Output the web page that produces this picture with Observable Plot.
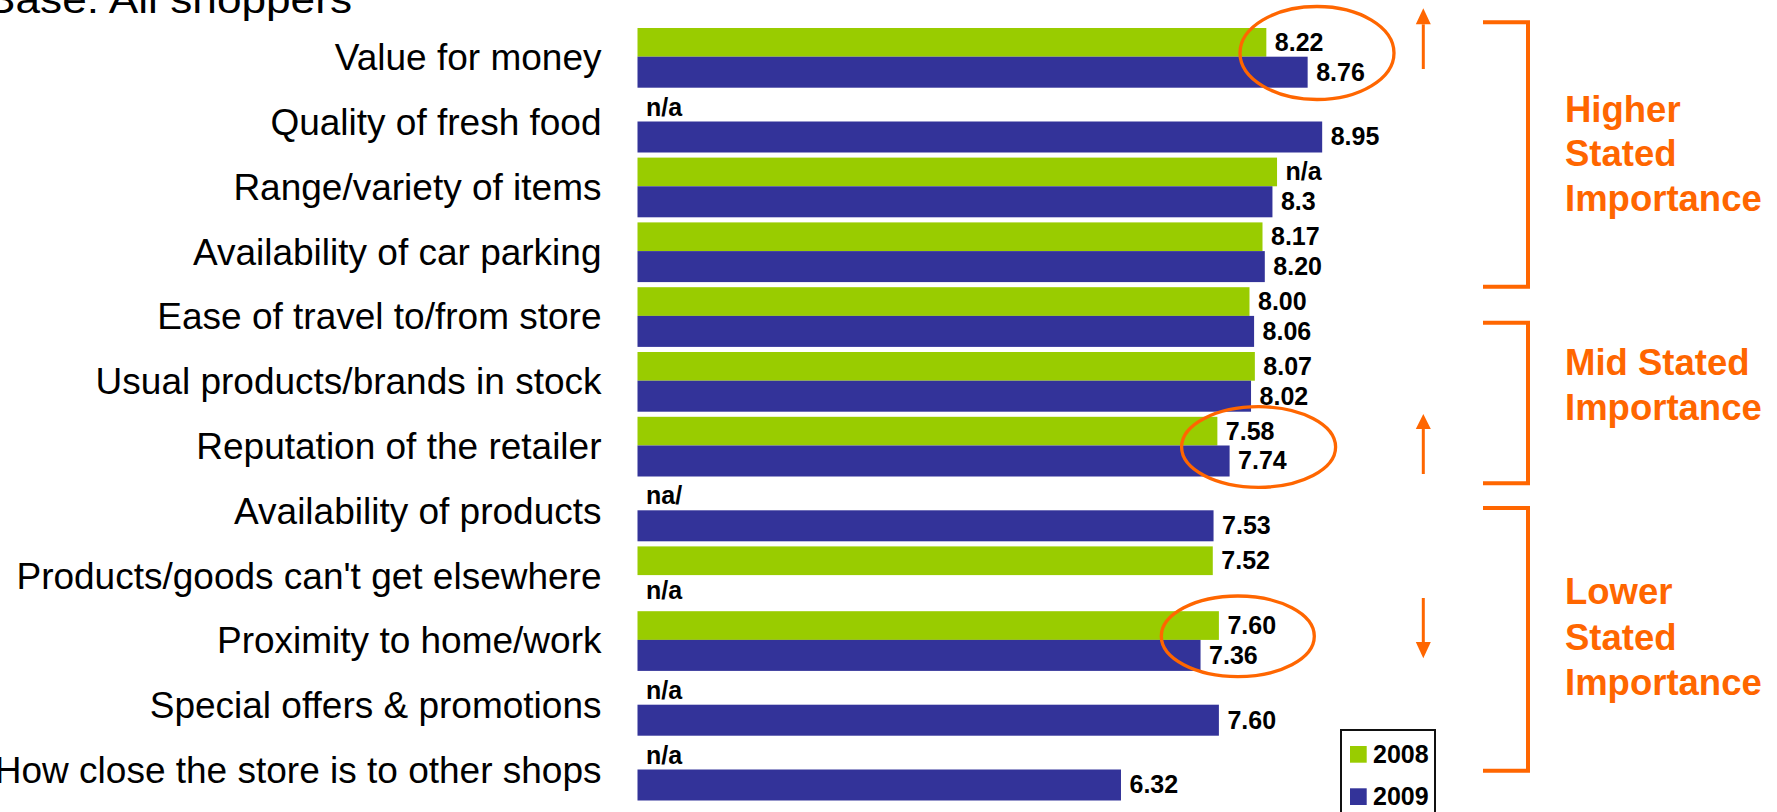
<!DOCTYPE html>
<html>
<head>
<meta charset="utf-8">
<script src="https://cdn.jsdelivr.net/npm/d3@7"></script>
<script src="https://cdn.jsdelivr.net/npm/@observablehq/plot@0.6"></script>
<style>
  html, body { margin: 0; padding: 0; background: #fff; overflow: hidden; }
  #chart svg { display: block; }
</style>
</head>
<body>
<div id="chart"></div>
<script>
// ---- Data ----
const categories = [
  "Value for money",
  "Quality of fresh food",
  "Range/variety of items",
  "Availability of car parking",
  "Ease of travel to/from store",
  "Usual products/brands in stock",
  "Reputation of the retailer",
  "Availability of products",
  "Products/goods can't get elsewhere",
  "Proximity to home/work",
  "Special offers & promotions",
  "How close the store is to other shops"
];
const years = ["2008", "2009"];
const values2008 = [8.22, null, 8.36, 8.17, 8.00, 8.07, 7.58, null, 7.52, 7.60, null, null];
const values2009 = [8.76, 8.95, 8.30, 8.20, 8.06, 8.02, 7.74, 7.53, null, 7.36, 7.60, 6.32];
const labels2008 = ["8.22", "n/a", "n/a", "8.17", "8.00", "8.07", "7.58", "na/", "7.52", "7.60", "n/a", "n/a"];
const labels2009 = ["8.76", "8.95", "8.3", "8.20", "8.06", "8.02", "7.74", "7.53", "n/a", "7.36", "7.60", "6.32"];
const seriesColors = ["#99CC00", "#333399"];
const title = "Base: All shoppers";
const groupLabels = [
  ["Higher", "Stated", "Importance"],
  ["Mid Stated", "Importance"],
  ["Lower", "Stated", "Importance"]
];

// ---- Build rows ----
const rows2008 = categories.map((c, i) => ({category: c, year: years[0], value: values2008[i], label: labels2008[i]}));
const rows2009 = categories.map((c, i) => ({category: c, year: years[1], value: values2009[i], label: labels2009[i]}));

const font = "'Liberation Sans', Arial, Helvetica, sans-serif";

const plot = Plot.plot({
  width: 1777,
  height: 812,
  marginLeft: 637.5,
  marginRight: 374.5,
  marginTop: 0,
  marginBottom: 0,
  style: {fontFamily: font, fontSize: "37px", background: "white", overflow: "visible"},
  x: {domain: [0, 10], axis: null},
  y: {domain: categories, range: [28, 800.5], paddingInner: 0.0787, paddingOuter: 0, align: 0, round: false, label: null},
  marks: [
    Plot.barX(rows2008.filter(d => d.value != null), {x: "value", y: "category", fill: seriesColors[0], insetBottom: 31}),
    Plot.barX(rows2009.filter(d => d.value != null), {x: "value", y: "category", fill: seriesColors[1], insetTop: 28.7}),
    Plot.text(rows2008, {x: d => d.value ?? 0, y: "category", text: "label", dy: -15.5, dx: 8, textAnchor: "start", fontWeight: "bold", fontSize: 25, fill: "black"}),
    Plot.text(rows2009, {x: d => d.value ?? 0, y: "category", text: "label", dy: 14.3, dx: 8, textAnchor: "start", fontWeight: "bold", fontSize: 25, fill: "black"}),
    Plot.axisY({tickSize: 0, tickPadding: 36.5, fontSize: 37, label: null})
  ]
});

document.getElementById("chart").appendChild(plot);

// ---- Annotations (decoration) ----
const svg = d3.select(plot);
const orange = "#FF6600";
const ann = svg.append("g").attr("text-anchor", "start");

// title, cut at the top of the picture
ann.append("text")
  .attr("x", -14).attr("y", 13.3)
  .attr("font-family", font).attr("font-size", 38)
  .attr("textLength", 366).attr("lengthAdjust", "spacingAndGlyphs")
  .attr("fill", "black")
  .text(title);

// ellipses around the changed values
const ellipses = [
  {cx: 1317, cy: 53, rx: 77, ry: 46.5},
  {cx: 1258.6, cy: 447, rx: 77, ry: 40.3},
  {cx: 1237.8, cy: 636.3, rx: 76.5, ry: 40.3}
];
ann.append("g").selectAll("ellipse").data(ellipses).join("ellipse")
  .attr("cx", d => d.cx).attr("cy", d => d.cy).attr("rx", d => d.rx).attr("ry", d => d.ry)
  .attr("fill", "none").attr("stroke", orange).attr("stroke-width", 3.3);

// arrows
const arrows = [
  {x: 1423.3, tail: 69, base: 24.3, tip: 8.3},
  {x: 1423.3, tail: 474, base: 429, tip: 414},
  {x: 1423.3, tail: 598, base: 642, tip: 658.3}
];
const ag = ann.append("g");
arrows.forEach(a => {
  ag.append("line").attr("x1", a.x).attr("x2", a.x).attr("y1", a.tail).attr("y2", a.base)
    .attr("stroke", orange).attr("stroke-width", 3);
  ag.append("path")
    .attr("d", `M${a.x - 7.5},${a.base} L${a.x + 7.5},${a.base} L${a.x},${a.tip} Z`)
    .attr("fill", orange);
});

// brackets
const brackets = [
  {top: 22.3, bottom: 286.7},
  {top: 322.7, bottom: 483.3},
  {top: 508, bottom: 770.7}
];
ann.append("g").selectAll("path").data(brackets).join("path")
  .attr("d", d => `M1483,${d.top} H1528 V${d.bottom} H1483`)
  .attr("fill", "none").attr("stroke", orange).attr("stroke-width", 4);

// group labels
const groupBaselines = [[121.7, 166, 210.5], [375, 419.5], [604, 649.5, 695]];
groupLabels.forEach((lines, gi) => {
  lines.forEach((t, li) => {
    ann.append("text")
      .attr("x", 1565).attr("y", groupBaselines[gi][li])
      .attr("font-family", font).attr("font-size", 36.5).attr("font-weight", "bold")
      .attr("fill", orange)
      .text(t);
  });
});

// legend
const lg = ann.append("g");
lg.append("rect").attr("x", 1341).attr("y", 730).attr("width", 94).attr("height", 100)
  .attr("fill", "white").attr("stroke", "#111").attr("stroke-width", 2);
years.forEach((y, i) => {
  lg.append("rect").attr("x", 1350).attr("y", 746 + i * 42.3).attr("width", 16.7).attr("height", 16.7)
    .attr("fill", seriesColors[i]);
  lg.append("text").attr("x", 1373).attr("y", 763 + i * 42.3)
    .attr("font-family", font).attr("font-size", 25).attr("font-weight", "bold").attr("fill", "black")
    .text(y);
});
</script>
</body>
</html>
